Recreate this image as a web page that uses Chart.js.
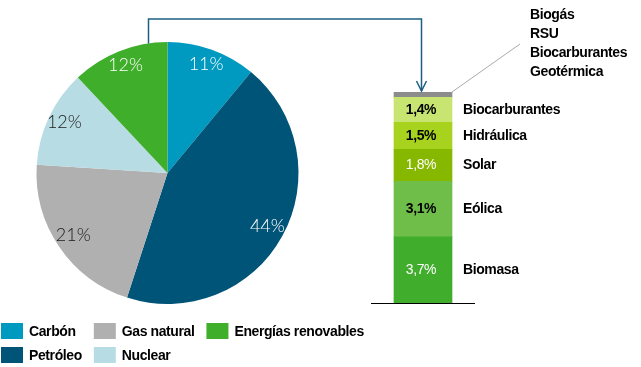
<!DOCTYPE html>
<html>
<head>
<meta charset="utf-8">
<script src="https://cdn.jsdelivr.net/npm/chart.js@4.4.0/dist/chart.umd.min.js"></script>
<style>
  html, body { margin: 0; padding: 0; background: #fff; }
  #wrap { position: relative; width: 641px; height: 367px; }
  #wrap canvas { position: absolute; left: 0; top: 0; }
</style>
</head>
<body>
<div id="wrap">
  <canvas id="pie" width="641" height="367"></canvas>
  <canvas id="bar" width="641" height="367"></canvas>
</div>
<script>
// --- DATOS ---
// Consumo de energía primaria por fuente (%)
const fuentes = ['Carbón', 'Petróleo', 'Gas natural', 'Nuclear', 'Energías renovables'];
const fuentesPct = [11, 44, 21, 12, 12];
const fuentesColores = ['#0099bf', '#005478', '#b1b0b1', '#b8dce3', '#3fae2a'];
const fuentesTexto = ['#ffffff', '#ffffff', '#1a1a1a', '#1a1a1a', '#ffffff'];

// Desglose de las renovables, de abajo hacia arriba (%)
const renovables = ['Biomasa', 'Eólica', 'Solar', 'Hidráulica', 'Biocarburantes', 'Otras'];
const renovablesPct = [3.7, 3.1, 1.8, 1.5, 1.4, 0.3];
const renovablesColores = ['#41ad2c', '#6fbe4a', '#86b800', '#a7d31f', '#c7e570', '#8c8c8c'];
const renovablesTexto = ['#ffffff', '#000000', '#ffffff', '#000000', '#000000', null];
const otrasRenovables = ['Biogás', 'RSU', 'Biocarburantes', 'Geotérmica'];

const FUENTE = 'bold 14px "Liberation Sans", Arial, sans-serif';
const formatoPct = v => v.toFixed(1).replace('.', ',') + '%';

const ponerFuente = ctx => {
    ctx.font = FUENTE;
    ctx.letterSpacing = '-0.4px';
};

// --- PLUGINS ---
const etiquetasPie = {
    id: 'etiquetasPie',
    afterDatasetsDraw(chart) {
        const ctx = chart.ctx;
        ctx.save();
        ctx.font = '300 18px Lato, "Open Sans", sans-serif';
        ctx.textAlign = 'center';
        ctx.textBaseline = 'middle';
        chart.getDatasetMeta(0).data.forEach((arc, i) => {
            const p = arc.getProps(['x', 'y', 'startAngle', 'endAngle', 'outerRadius'], true);
            const a = (p.startAngle + p.endAngle) / 2;
            const r = p.outerRadius * 0.87;
            ctx.fillStyle = fuentesTexto[i];
            ctx.fillText(fuentesPct[i] + '%', p.x + Math.cos(a) * r, p.y + Math.sin(a) * r - 2);
        });
        ctx.restore();
    }
};

// Leyenda en columnas (2 filas), como en el original
const leyenda = {
    id: 'leyenda',
    afterDraw(chart) {
        const ctx = chart.ctx;
        ctx.save();
        ponerFuente(ctx);
        ctx.textBaseline = 'middle';
        let x = 1;
        for (let col = 0; col * 2 < fuentes.length; col++) {
            let ancho = 0;
            for (let fila = 0; fila < 2; fila++) {
                const i = col * 2 + fila;
                if (i >= fuentes.length) break;
                const y = 323 + fila * 24;
                ctx.fillStyle = fuentesColores[i];
                ctx.fillRect(x, y, 22, 16);
                ctx.fillStyle = '#000';
                ctx.fillText(fuentes[i], x + 28, y + 9);
                ancho = Math.max(ancho, ctx.measureText(fuentes[i]).width);
            }
            x += 28 + ancho + 12;
        }
        ctx.restore();
    }
};

let pieChart;

const etiquetasBarra = {
    id: 'etiquetasBarra',
    afterDraw(chart) {
        const ctx = chart.ctx;
        const area = chart.chartArea;
        ctx.save();

        // línea base
        const yBase = Math.round(area.bottom) + 0.5;
        ctx.strokeStyle = '#000';
        ctx.lineWidth = 1;
        ctx.beginPath();
        ctx.moveTo(area.left, yBase);
        ctx.lineTo(area.right, yBase);
        ctx.stroke();

        // valores y nombres de cada tramo
        ponerFuente(ctx);
        ctx.textBaseline = 'middle';
        chart.data.datasets.forEach((ds, i) => {
            if (!renovablesTexto[i]) return;
            const bar = chart.getDatasetMeta(i).data[0];
            const yc = (bar.y + bar.base) / 2;
            ctx.textAlign = 'center';
            ctx.fillStyle = renovablesTexto[i];
            // los valores en blanco van en trazo fino, como en el original
            ctx.font = renovablesTexto[i] === '#ffffff' ? FUENTE.replace('bold', 'normal') : FUENTE;
            ctx.fillText(formatoPct(renovablesPct[i]), bar.x - 2, yc);
            ctx.font = FUENTE;
            ctx.textAlign = 'left';
            ctx.fillStyle = '#000';
            ctx.fillText(renovables[i], bar.x + bar.width / 2 + 11, yc);
        });

        // tramo "otras": línea gris y lista
        const tope = chart.getDatasetMeta(renovables.length - 1).data[0];
        const ex = tope.x + tope.width / 2;
        const ey = tope.y;
        ctx.strokeStyle = '#aaaaaa';
        ctx.lineWidth = 1;
        ctx.beginPath();
        ctx.moveTo(ex, ey);
        ctx.lineTo(ex + 68, ey - 48);
        ctx.stroke();
        ctx.textAlign = 'left';
        ctx.fillStyle = '#000';
        otrasRenovables.forEach((t, k) => ctx.fillText(t, ex + 78, 15 + k * 19));

        // conector desde el sector de renovables
        const arc = pieChart.getDatasetMeta(0).data[fuentes.length - 1];
        const p = arc.getProps(['x', 'y', 'startAngle', 'endAngle', 'outerRadius'], true);
        const a = p.endAngle - 0.2 * (p.endAngle - p.startAngle);
        const sx = Math.round(p.x + Math.cos(a) * p.outerRadius) + 0.5;
        const sy = p.y + Math.sin(a) * p.outerRadius;
        const bx = Math.round(tope.x - 2) + 0.5;
        const by = tope.y - 1;
        ctx.strokeStyle = '#1d5f82';
        ctx.lineWidth = 1.5;
        ctx.beginPath();
        ctx.moveTo(sx, sy);
        ctx.lineTo(sx, 19);
        ctx.lineTo(bx, 19);
        ctx.lineTo(bx, by);
        ctx.stroke();
        ctx.beginPath();
        ctx.moveTo(bx - 5, by - 10);
        ctx.lineTo(bx, by);
        ctx.lineTo(bx + 5, by - 10);
        ctx.stroke();

        ctx.restore();
    }
};

// --- GRÁFICOS ---
pieChart = new Chart(document.getElementById('pie'), {
    type: 'pie',
    data: {
        labels: fuentes,
        datasets: [{
            data: fuentesPct,
            backgroundColor: fuentesColores,
            borderWidth: 0
        }]
    },
    options: {
        responsive: false,
        animation: false,
        devicePixelRatio: 1,
        layout: { padding: { left: 36, top: 42, right: 342, bottom: 63 } },
        plugins: { legend: { display: false }, tooltip: { enabled: false } }
    },
    plugins: [etiquetasPie, leyenda]
});

const totalRenovables = renovablesPct.reduce((s, v) => s + v, 0);

new Chart(document.getElementById('bar'), {
    type: 'bar',
    data: {
        labels: ['Renovables'],
        datasets: renovables.map((nombre, i) => ({
            label: nombre,
            data: [renovablesPct[i]],
            backgroundColor: renovablesColores[i],
            borderWidth: 0,
            barThickness: 58
        }))
    },
    options: {
        responsive: false,
        animation: false,
        devicePixelRatio: 1,
        layout: { padding: { left: 371, top: 92, right: 166, bottom: 64 } },
        scales: {
            x: { display: false, stacked: true },
            y: { display: false, stacked: true, min: 0, max: totalRenovables }
        },
        plugins: { legend: { display: false }, tooltip: { enabled: false } }
    },
    plugins: [etiquetasBarra]
});
</script>
</body>
</html>
